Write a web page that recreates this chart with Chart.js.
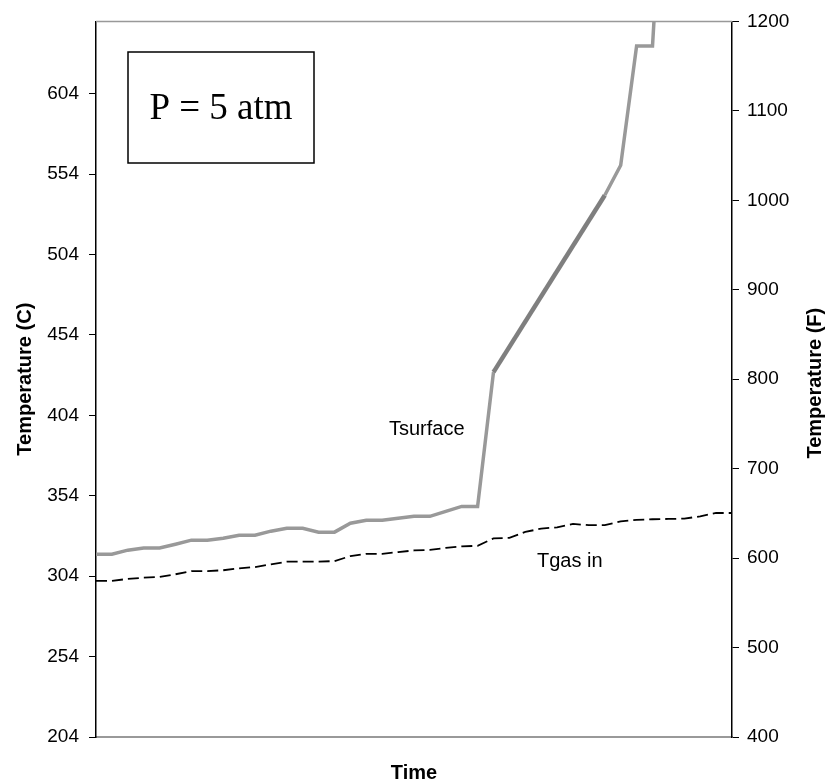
<!DOCTYPE html>
<html lang="en">
<head>
    <meta charset="UTF-8">
    <title>Tsurface / Tgas in - P = 5 atm</title>
    <script src="https://cdn.jsdelivr.net/npm/chart.js@4.4.1/dist/chart.umd.min.js"></script>
    <style>
        body {
            margin: 0;
            background: #fff;
        }
        #wrap {
            width: 825px;
            height: 783px;
        }
    </style>
</head>
<body>
    <div id="wrap">
        <canvas id="chart" width="825" height="783"></canvas>
    </div>

    <script>
        // time steps (no tick labels shown on the x axis)
        const timeSteps = ['1','2','3','4','5','6','7','8','9','10','11','12','13','14','15','16','17','18','19','20',
                           '21','22','23','24','25','26','27','28','29','30','31','32','33','34','35','36','37','38','39','40','41'];

        // surface temperature, deg C (null = no reading, line joins across)
        const tSurface = [317.6, 317.7, 320.2, 321.5, 321.5, 323.9, 326.4, 326.4, 327.6, 329.5,
                          329.5, 332.0, 333.8, 333.8, 331.4, 331.4, 336.9, 338.8, 338.8, 340.0,
                          341.2, 341.2, 344.3, 347.4, 347.4, 430.9, null, null, null, null,
                          null, null, 540.9, 559.5, 633.7, 633.7, 800, null, null, null, null];

        // inlet gas temperature, deg C
        const tGasIn = [301.1, 301.1, 302.3, 303.1, 303.5, 305.2, 307.2, 307.2, 307.7, 308.9,
                        309.7, 311.4, 313.0, 313.0, 313.0, 313.4, 316.5, 317.9, 317.9, 319.0,
                        320.0, 320.4, 321.6, 322.5, 322.9, 327.5, 327.8, 331.5, 333.6, 334.4,
                        336.5, 335.7, 335.7, 338.1, 339.0, 339.4, 339.6, 339.8, 341.2, 343.3, 343.3];

        const leftTicks = [204, 254, 304, 354, 404, 454, 504, 554, 604];
        const leftMin = 204, leftMax = 649;
        const rightMin = 400, rightMax = 1200, rightStep = 100;

        Chart.defaults.font.family = 'Arial, "Liberation Sans", sans-serif';
        Chart.defaults.color = '#000';

        // segment crosses the missing readings?
        const inGap = ctx => ctx.p0.skip || ctx.p1.skip;

        // top frame line, the right axis title and the text notes
        const extras = {
            id: 'extras',
            afterDraw(chart) {
                const ctx = chart.ctx;
                const a = chart.chartArea;
                ctx.save();

                ctx.strokeStyle = '#999';
                ctx.lineWidth = 1.5;
                ctx.beginPath();
                ctx.moveTo(a.left, a.top);
                ctx.lineTo(a.right, a.top);
                ctx.stroke();

                // right title reads bottom to top
                ctx.fillStyle = '#000';
                ctx.font = 'bold 20px Arial, "Liberation Sans", sans-serif';
                ctx.textAlign = 'center';
                ctx.textBaseline = 'middle';
                ctx.translate(815, (a.top + a.bottom) / 2 + 4);
                ctx.rotate(-Math.PI / 2);
                ctx.fillText('Temperature (F)', 0, 0);
                ctx.restore();

                ctx.save();
                ctx.strokeStyle = '#000';
                ctx.lineWidth = 1.5;
                ctx.strokeRect(128, 52, 186, 111);
                ctx.fillStyle = '#000';
                ctx.textAlign = 'center';
                ctx.textBaseline = 'middle';
                ctx.font = '37px "Times New Roman", "Liberation Serif", serif';
                ctx.fillText('P = 5 atm', 221, 109);

                ctx.font = '20px Arial, "Liberation Sans", sans-serif';
                ctx.textAlign = 'left';
                ctx.fillText('Tsurface', 389, 429);
                ctx.fillText('Tgas in', 537, 561);
                ctx.restore();
            }
        };

        new Chart(document.getElementById('chart'), {
            type: 'line',
            data: {
                labels: timeSteps,
                datasets: [{
                    label: 'Tsurface',
                    data: tSurface,
                    yAxisID: 'y',
                    borderColor: '#999',
                    borderWidth: 3.5,
                    pointRadius: 0,
                    tension: 0,
                    spanGaps: true,
                    segment: {
                        borderColor: ctx => inGap(ctx) ? '#7f7f7f' : undefined,
                        borderWidth: ctx => inGap(ctx) ? 4.5 : undefined
                    }
                }, {
                    label: 'Tgas in',
                    data: tGasIn,
                    yAxisID: 'y',
                    borderColor: '#000',
                    borderWidth: 1.8,
                    borderDash: [11, 5],
                    pointRadius: 0,
                    tension: 0
                }]
            },
            options: {
                responsive: false,
                animation: false,
                events: [],
                layout: { padding: { top: 17, left: 0, right: 0, bottom: 0 } },
                plugins: {
                    legend: { display: false },
                    tooltip: { enabled: false }
                },
                scales: {
                    x: {
                        type: 'category',
                        offset: false,
                        ticks: { display: false },
                        grid: { display: false, drawTicks: false },
                        border: { display: true, color: '#999', width: 2 },
                        title: {
                            display: true,
                            text: 'Time',
                            font: { size: 20, weight: 'bold', lineHeight: 1 },
                            padding: 0
                        },
                        afterFit: s => { s.height = 46; }
                    },
                    y: {
                        position: 'left',
                        min: leftMin,
                        max: leftMax,
                        afterBuildTicks: s => { s.ticks = leftTicks.map(v => ({ value: v })); },
                        ticks: { font: { size: 19 }, padding: 10, color: '#000', callback: v => String(v) },
                        grid: { drawOnChartArea: false, drawTicks: true, tickLength: 7, tickColor: '#000', tickWidth: 1 },
                        border: { display: true, color: '#000', width: 1.5 },
                        title: {
                            display: true,
                            text: 'Temperature (C)',
                            font: { size: 20, weight: 'bold', lineHeight: 1 },
                            padding: { top: 15, bottom: 0 }
                        },
                        afterFit: s => { s.width = 96; }
                    },
                    y2: {
                        position: 'right',
                        min: rightMin,
                        max: rightMax,
                        ticks: { stepSize: rightStep, font: { size: 19 }, padding: 8, color: '#000', callback: v => String(v) },
                        grid: { drawOnChartArea: false, drawTicks: true, tickLength: 7, tickColor: '#000', tickWidth: 1 },
                        border: { display: true, color: '#000', width: 1.5 },
                        afterFit: s => { s.width = 93; }
                    }
                }
            },
            plugins: [extras]
        });
    </script>
</body>
</html>
